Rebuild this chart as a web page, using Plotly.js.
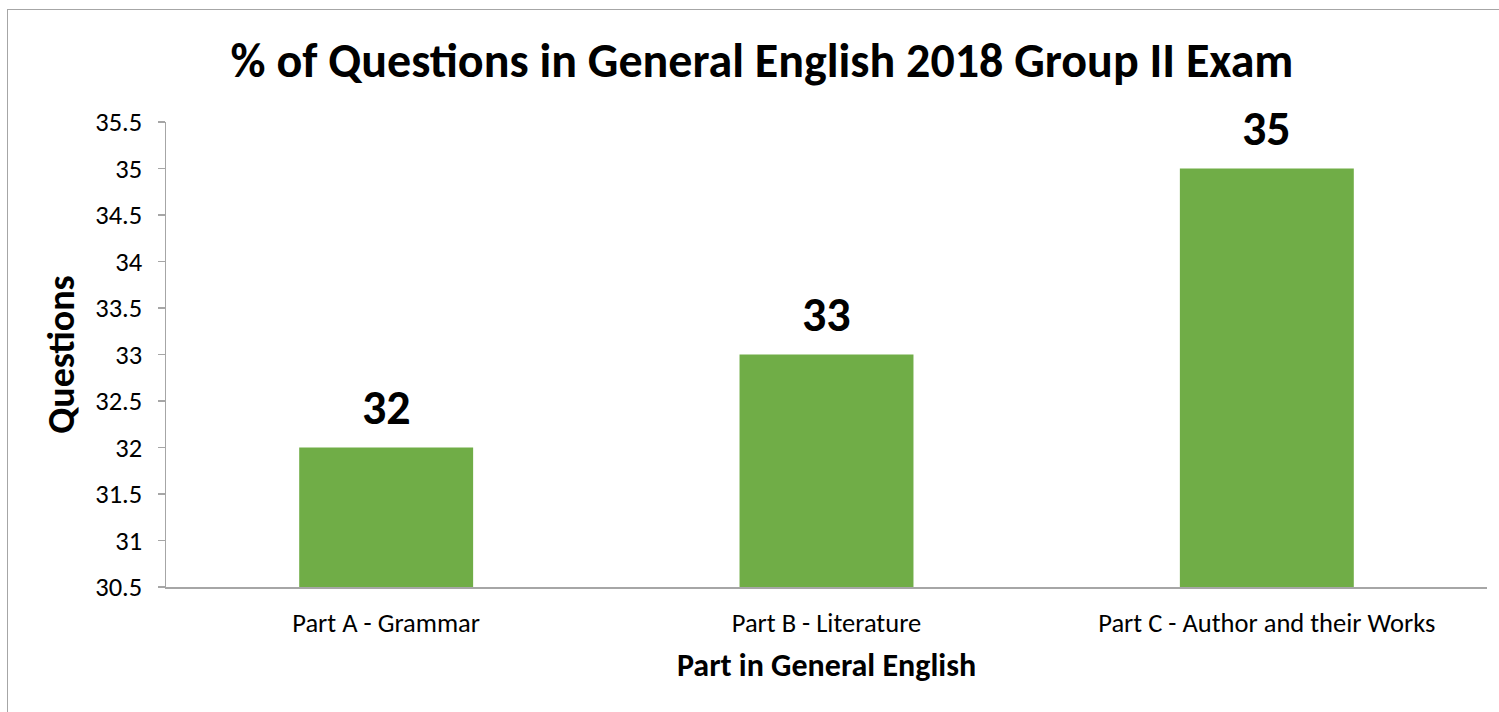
<!DOCTYPE html>
<html>
<head>
<meta charset="utf-8">
<script src="https://cdn.plot.ly/plotly-3.0.1.min.js"></script>
<style>
  html, body { margin: 0; padding: 0; background: #fff; overflow: hidden; }
  #chart { position: absolute; left: 0; top: 0; width: 1499px; height: 712px; }
  #frame { position: absolute; left: 7px; top: 9px; width: 1600px; height: 800px;
           border-left: 1.5px solid #a6a6a6; border-top: 1.5px solid #a6a6a6; pointer-events: none; }
</style>
</head>
<body>
<div id="chart"></div>
<div id="frame"></div>
<script>
const categories = ["Part A - Grammar", "Part B - Literature", "Part C - Author and their Works"];
const values = [32, 33, 35];
const labels = ["32", "33", "35"];
const yTicks = [30.5, 31, 31.5, 32, 32.5, 33, 33.5, 34, 34.5, 35, 35.5];
const yTickText = ["30.5", "31", "31.5", "32", "32.5", "33", "33.5", "34", "34.5", "35", "35.5"];

const FONT = "Carlito, Lato, 'Open Sans', sans-serif";

const trace = {
  type: "bar",
  x: categories,
  y: values,
  marker: { color: "#70AD47" },
  width: 0.395,
  hoverinfo: "x+y"
};

const annotations = categories.map((c, i) => ({
  x: c, y: values[i], xref: "x", yref: "y",
  text: "<b>" + labels[i] + "</b>",
  showarrow: false, yanchor: "bottom", yshift: 9,
  font: { family: FONT, size: 48, color: "#000" }
}));

const layout = {
  width: 1499, height: 712,
  paper_bgcolor: "rgba(0,0,0,0)", plot_bgcolor: "#fff",
  margin: { l: 166, r: 12, t: 122, b: 125 },
  showlegend: false,
  title: {
    text: "<b>% of Questions in General English 2018 Group II Exam</b>",
    font: { family: FONT, size: 48, color: "#000" },
    xref: "container", x: 762 / 1499, xanchor: "center",
    yref: "container", y: 1 - 60 / 712, yanchor: "middle"
  },
  xaxis: {
    type: "category",
    showline: true, linecolor: "#a6a6a6", linewidth: 1.5,
    ticks: "", showgrid: false, zeroline: false,
    tickfont: { family: FONT, size: 26.5, color: "#000" },
    ticklabelstandoff: 12,
    title: { text: "<b>Part in General English</b>", font: { family: FONT, size: 32, color: "#000" }, standoff: 15 }
  },
  yaxis: {
    range: [30.5, 35.5],
    tickvals: yTicks, ticktext: yTickText,
    showline: true, linecolor: "#a6a6a6", linewidth: 1.5,
    ticks: "outside", ticklen: 7, tickcolor: "#a6a6a6", tickwidth: 1.5,
    showgrid: false, zeroline: false,
    tickfont: { family: FONT, size: 26.5, color: "#000" },
    ticklabelstandoff: 10,
    title: { text: "<b>Questions</b>", font: { family: FONT, size: 38, color: "#000" }, standoff: 9 }
  },
  annotations: annotations
};

Plotly.newPlot("chart", [trace], layout, { displayModeBar: false, staticPlot: true });
</script>
</body>
</html>
